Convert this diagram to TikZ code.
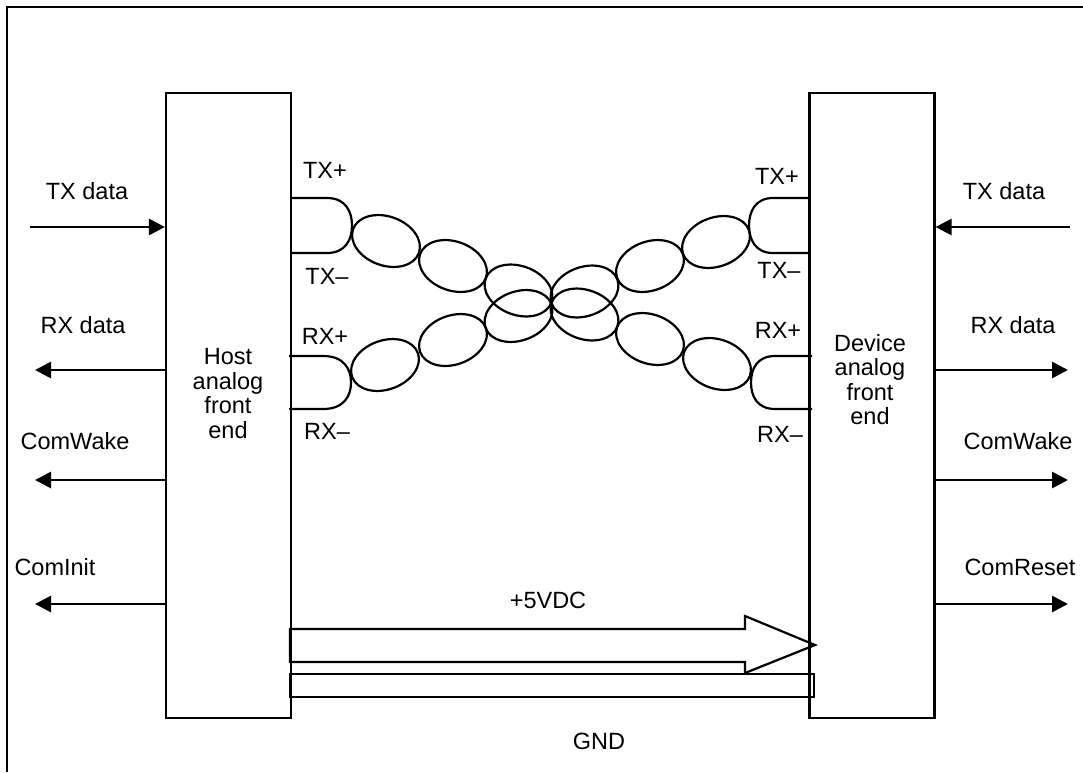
\documentclass[tikz,border=0pt]{standalone}
\usepackage{fontspec}
\setmainfont{Liberation Sans}
\usetikzlibrary{arrows.meta}
\newcommand\twistloop[3]{\draw[wire, rotate around={#3:(#1,#2)}] (#1,#2) ellipse (35 and 24.5);}
\begin{document}
\begin{tikzpicture}[x=1pt,y=1pt,
  box/.style={draw, line width=2.2pt, minimum width=125pt, minimum height=625pt, inner sep=0pt},
  lbl/.style={font=\fontsize{23.5}{24.5}\selectfont, inner sep=0pt},
  blk/.style={font=\fontsize{23.5}{24.5}\selectfont, inner sep=0pt, align=center},
  sig/.style={line width=2.8pt, -{Triangle[length=16pt,width=16pt]}},
  wire/.style={line width=2.2pt},
  pbar/.style={draw, line width=2.2pt, inner sep=0pt}]
\useasboundingbox (0,0) rectangle (1083,-772);
% outer frame (continues beyond the picture at right and bottom)
\draw[line width=2.8pt] (7,-772) -- (7,-7) -- (1083,-7);

% front-end boxes
\node[box] (host) at (228.5,-405.5) {};
\node[box] (dev) at (872,-405.5) {};
\node[blk] (hosttxt) at (228,-393.5) {Host\\analog\\front\\end};
\node[blk] (devtxt) at (870,-379.5) {Device\\analog\\front\\end};

% left-side signals
\coordinate (ltxs) at (30,-227);
\coordinate (lrxs) at (35,-370);
\coordinate (lcws) at (35,-480);
\coordinate (lcis) at (35,-604);
\draw[sig] (ltxs) -- (ltxs -| host.west);
\draw[sig] (lrxs -| host.west) -- (lrxs);
\draw[sig] (lcws -| host.west) -- (lcws);
\draw[sig] (lcis -| host.west) -- (lcis);
\node[lbl] (ltx) at (87,-191) {TX data};
\node[lbl] (lrx) at (83,-325) {RX data};
\node[lbl] (lcw) at (75,-441) {ComWake};
\node[lbl] (lci) at (55,-567) {ComInit};

% right-side signals
\coordinate (rtxs) at (1070,-227);
\coordinate (rrxs) at (1068,-370);
\coordinate (rcws) at (1068,-480);
\coordinate (rcrs) at (1068,-604);
\draw[sig] (rtxs) -- (rtxs -| dev.east);
\draw[sig] (rrxs -| dev.east) -- (rrxs);
\draw[sig] (rcws -| dev.east) -- (rcws);
\draw[sig] (rcrs -| dev.east) -- (rcrs);
\node[lbl] (rtx) at (1004,-191) {TX data};
\node[lbl] (rrx) at (1013,-325) {RX data};
\node[lbl] (rcw) at (1018,-441) {ComWake};
\node[lbl] (rcr) at (1020,-567) {ComReset};

% pair labels
\node[lbl] (htxp) at (325,-170) {TX+};
\node[lbl] (htxm) at (327,-276) {TX--};
\node[lbl] (hrxp) at (325,-336) {RX+};
\node[lbl] (hrxm) at (327,-431) {RX--};
\node[lbl] (dtxp) at (777,-176) {TX+};
\node[lbl] (dtxm) at (779,-270) {TX--};
\node[lbl] (drxp) at (778,-330) {RX+};
\node[lbl] (drxm) at (780,-434) {RX--};

% twisted pair ends
\draw[wire] (291,-198) -- (327,-198) .. controls (346,-198) and (352,-212) .. (352,-225.5)
  .. controls (352,-239) and (346,-253) .. (327,-253) -- (291,-253);
\draw[wire] (289,-356) -- (323,-356) .. controls (344,-356) and (351,-369) .. (351,-382.5)
  .. controls (351,-396) and (344,-409) .. (323,-409) -- (289,-409);
\draw[wire] (810,-198) -- (773,-198) .. controls (755,-198) and (749,-212) .. (749,-225.5)
  .. controls (749,-239) and (755,-253) .. (773,-253) -- (810,-253);
\draw[wire] (812,-356) -- (775,-356) .. controls (757,-356) and (751,-369) .. (751,-382.5)
  .. controls (751,-396) and (757,-409) .. (775,-409) -- (812,-409);

% twisted pair loops
\twistloop{386}{-241}{-20}
\twistloop{453}{-266}{-20}
\twistloop{518.5}{-290.5}{-20}
\twistloop{716}{-242}{20}
\twistloop{650}{-266}{20}
\twistloop{584.5}{-291.5}{20}
\twistloop{385}{-365}{20}
\twistloop{453}{-340}{20}
\twistloop{518.5}{-316}{20}
\twistloop{717}{-364}{-20}
\twistloop{650}{-339}{-20}
\twistloop{584.5}{-314.5}{-20}

% power and ground
\draw[wire, line join=miter] (290,-629) -- (745,-629) -- (745,-616) -- (815,-645)
  -- (745,-673) -- (745,-662) -- (290,-662) -- cycle;
\node[pbar, minimum width=524pt, minimum height=23pt] (gnd) at (552,-685.5) {};
\node[lbl] (vdc) at (548,-600) {+5VDC};
\node[lbl] (gndl) at (599,-741) {GND};
\end{tikzpicture}
\end{document}
